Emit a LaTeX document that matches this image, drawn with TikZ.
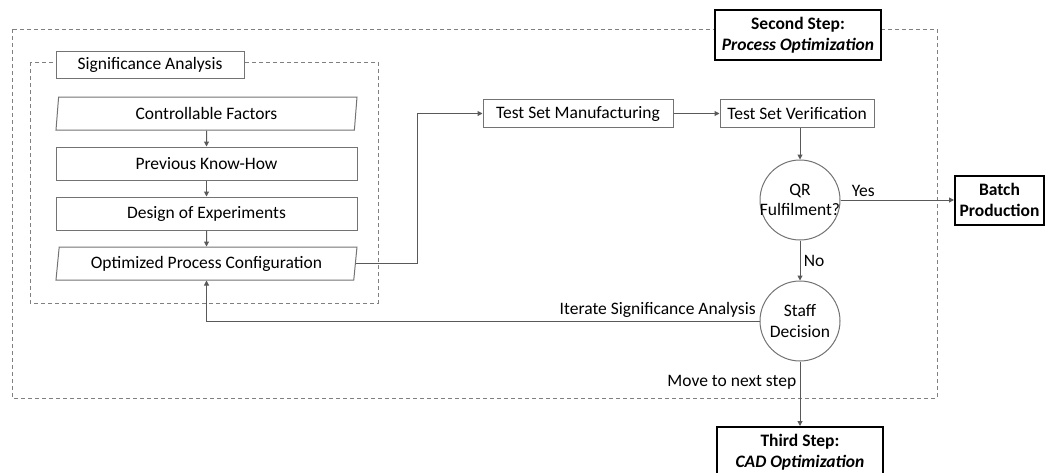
\documentclass[tikz,border=0pt]{standalone}
\usepackage{fontspec}
\setmainfont{Carlito}
\usetikzlibrary{positioning,shapes.geometric,arrows.meta}

\begin{document}
\begin{tikzpicture}[x=1pt, y=-1pt, node distance=16pt,
    font=\fontsize{17.5}{20.5}\selectfont,
    flow/.style={draw=black!65, line width=1pt, -{Triangle[length=5pt,width=5pt]}},
    dashframe/.style={draw=black!50, line width=1pt, dash pattern=on 4pt off 3pt},
    stepbox/.style={rectangle, draw=black!55, line width=1pt, fill=white, minimum width=301pt, minimum height=33pt, inner sep=0pt},
    iobox/.style={stepbox, trapezium, trapezium left angle=78, trapezium right angle=102, trapezium stretches body},
    testbox/.style={rectangle, draw=black!55, line width=1pt, fill=white, minimum height=28pt, inner sep=0pt},
    decision/.style={circle, draw=black!55, line width=1pt, fill=white, minimum size=80pt, inner sep=0pt},
    milestone/.style={rectangle, draw=black, line width=2pt, fill=white, align=center, inner sep=4pt, font=\fontsize{17.5}{20.5}\selectfont\bfseries}]
    \useasboundingbox (0,0) rectangle (1046,472);

    % dashed frames: whole step and significance analysis
    \draw[dashframe] (12,29) rectangle (937,398);
    \draw[dashframe] (30,62) rectangle (378,303);

    \node[milestone, minimum width=166pt, minimum height=50pt] (second) at (798,35) {Second Step:\\\textit{Process Optimization}};
    \node[stepbox, minimum width=188pt, minimum height=27pt] (sig) at (150,64.5) {Significance Analysis};

    % significance analysis chain
    \node[iobox] (ctrl) at (206.5,113.5) {Controllable Factors};
    \node[stepbox, below=of ctrl] (prev) {Previous Know-How};
    \node[stepbox, below=of prev] (doe) {Design of Experiments};
    \node[iobox, below=of doe] (opt) {Optimized Process Configuration};

    % test set and decisions
    \node[testbox, minimum width=190pt] (manuf) at (578,113.5) {Test Set Manufacturing};
    \node[testbox, minimum width=154pt, right=46pt of manuf] (verif) {Test Set Verification};
    \node[decision, label={[align=center]center:QR\\Fulfilment?}] (qr) at (800,200) {};
    \node[decision, below=40pt of qr, label={[align=center]center:Staff\\Decision}] (staff) {};

    \node[milestone, minimum width=89pt, minimum height=49pt] (batch) at (999.5,200) {Batch\\Production};
    \node[milestone, minimum width=166pt, minimum height=50pt] (third) at (800,452) {Third Step:\\\textit{CAD Optimization}};

    \draw[flow] (ctrl) -- (prev);
    \draw[flow] (prev) -- (doe);
    \draw[flow] (doe) -- (opt);
    \coordinate (jog) at (417,113.5);
    \draw[flow] (opt.east) -| (jog) -- (manuf.west);
    \draw[flow] (manuf) -- (verif);
    \draw[flow] (verif.south -| qr) -- (qr);
    \draw[flow] (qr) -- node[pos=0.2, above] {Yes} (batch);
    \draw[flow] (qr) -- node[right] {No} (staff);
    \draw[flow] (staff.west) -| node[pos=0, above left] {Iterate Significance Analysis} (opt.south);
    \draw[flow] (staff) -- node[pos=0.33, left] {Move to next step} (third);
\end{tikzpicture}
\end{document}
